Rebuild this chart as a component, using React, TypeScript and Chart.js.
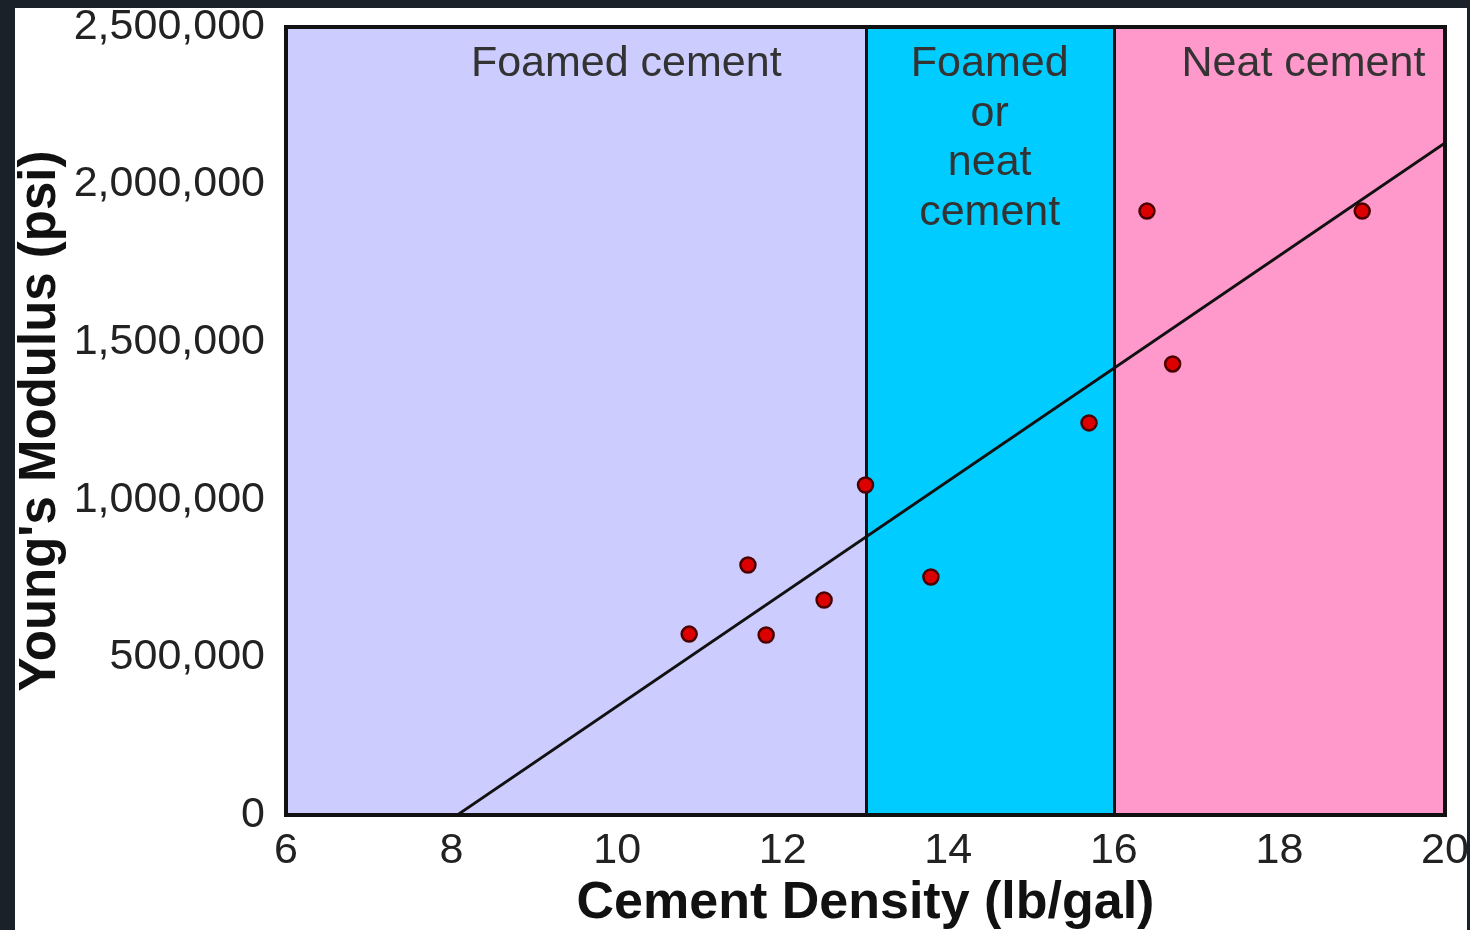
import React, { useEffect, useRef } from "react";
import { Chart, registerables } from "chart.js";

Chart.register(...registerables);

// ---- data ----
const densities = [10.87, 11.58, 11.8, 12.5, 13.0, 13.79, 15.7, 16.4, 16.71, 19.0];
const moduli = [574000, 793000, 571000, 682000, 1047000, 755000, 1244000, 1916000, 1431000, 1916000];
const fitDensities = [8.07, 20];
const fitModuli = [0, 2132000];
const zoneStarts = [6, 13, 16];
const zoneEnds = [13, 16, 20];
const zoneLabels = [["Foamed cement"], ["Foamed", "or", "neat", "cement"], ["Neat cement"]];
const zoneLabelX = [10.11, 14.5, 18.29];
const zoneLabelY = 2382000;
const xTicks = [6, 8, 10, 12, 14, 16, 18, 20];
const yTicks = [0, 500000, 1000000, 1500000, 2000000, 2500000];

const zoneColors = ["#ccccff", "#00ccff", "#ff99cc"];
const FONT = '"Liberation Sans", Arial, sans-serif';

const zonesPlugin = {
  id: "zones",
  beforeDatasetsDraw(chart: any) {
    const { ctx, chartArea, scales } = chart;
    const xs = scales.x;
    ctx.save();
    zoneStarts.forEach((s, i) => {
      const x0 = xs.getPixelForValue(s);
      const x1 = xs.getPixelForValue(zoneEnds[i]);
      ctx.fillStyle = zoneColors[i];
      ctx.fillRect(x0, chartArea.top, x1 - x0, chartArea.bottom - chartArea.top);
    });
    ctx.strokeStyle = "#111";
    ctx.lineWidth = 3;
    zoneStarts.slice(1).forEach((s) => {
      const x = Math.round(xs.getPixelForValue(s)) + 0.5;
      ctx.beginPath();
      ctx.moveTo(x, chartArea.top);
      ctx.lineTo(x, chartArea.bottom);
      ctx.stroke();
    });
    ctx.lineWidth = 4;
    ctx.strokeRect(chartArea.left, chartArea.top, chartArea.right - chartArea.left, chartArea.bottom - chartArea.top);
    ctx.fillStyle = "#333";
    ctx.font = `43px ${FONT}`;
    ctx.textAlign = "center";
    ctx.textBaseline = "middle";
    const y0 = scales.y.getPixelForValue(zoneLabelY);
    zoneLabels.forEach((lines, i) => {
      const x = xs.getPixelForValue(zoneLabelX[i]);
      lines.forEach((ln, j) => ctx.fillText(ln, x, y0 + j * 49.7));
    });
    ctx.restore();
  },
};

export default function App() {
  const ref = useRef<HTMLCanvasElement>(null);
  useEffect(() => {
    if (!ref.current) return;
    const chart = new Chart(ref.current, {
      type: "scatter",
      data: {
        datasets: [
          {
            type: "line",
            data: fitDensities.map((x, i) => ({ x, y: fitModuli[i] })),
            borderColor: "#111",
            borderWidth: 2.8,
            pointRadius: 0,
            fill: false,
          },
          {
            data: densities.map((x, i) => ({ x, y: moduli[i] })),
            backgroundColor: "#dd0000",
            borderColor: "#4a0000",
            borderWidth: 2.5,
            pointRadius: 7.5,
            pointStyle: "circle",
          },
        ],
      },
      options: {
        responsive: false,
        devicePixelRatio: 1,
        animation: false,
        layout: { padding: { left: 0, top: 19, right: 22, bottom: 0 } },
        plugins: { legend: { display: false }, tooltip: { enabled: false } },
        scales: {
          x: {
            type: "linear",
            min: 6,
            max: 20,
            grid: { display: false, drawTicks: false },
            border: { display: false },
            afterBuildTicks: (s: any) => {
              s.ticks = xTicks.map((v) => ({ value: v }));
            },
            afterFit: (s: any) => {
              s.height = 115;
              s.paddingLeft = 0;
              s.paddingRight = 0;
            },
            ticks: { color: "#222", font: { family: FONT, size: 43 }, padding: 10, maxRotation: 0, autoSkip: false },
            title: {
              display: true,
              text: "Cement Density (lb/gal)",
              color: "#111",
              font: { family: FONT, size: 52, weight: "bold", lineHeight: 1 },
              padding: 0,
            },
          },
          y: {
            type: "linear",
            min: 0,
            max: 2500000,
            grid: { display: false, drawTicks: false },
            border: { display: false },
            afterBuildTicks: (s: any) => {
              s.ticks = yTicks.map((v) => ({ value: v }));
            },
            afterFit: (s: any) => {
              s.width = 271;
              s.paddingTop = 0;
              s.paddingBottom = 0;
            },
            ticks: {
              color: "#222",
              font: { family: FONT, size: 43 },
              padding: 21,
              autoSkip: false,
              callback: (v: any) => Number(v).toLocaleString("en-US"),
            },
            title: {
              display: true,
              text: "Young's Modulus (psi)",
              color: "#111",
              font: { family: FONT, size: 51, weight: "bold", lineHeight: 1 },
              padding: 0,
            },
          },
        },
      },
      plugins: [zonesPlugin],
    } as any);
    return () => chart.destroy();
  }, []);
  return (
    <div style={{ position: "fixed", inset: 0, background: "#1b2129" }}>
      <div style={{ position: "absolute", left: 15, top: 8, width: 1452, height: 922, background: "#ffffff" }}>
        <canvas ref={ref} width={1452} height={922} style={{ display: "block" }} />
      </div>
    </div>
  );
}
